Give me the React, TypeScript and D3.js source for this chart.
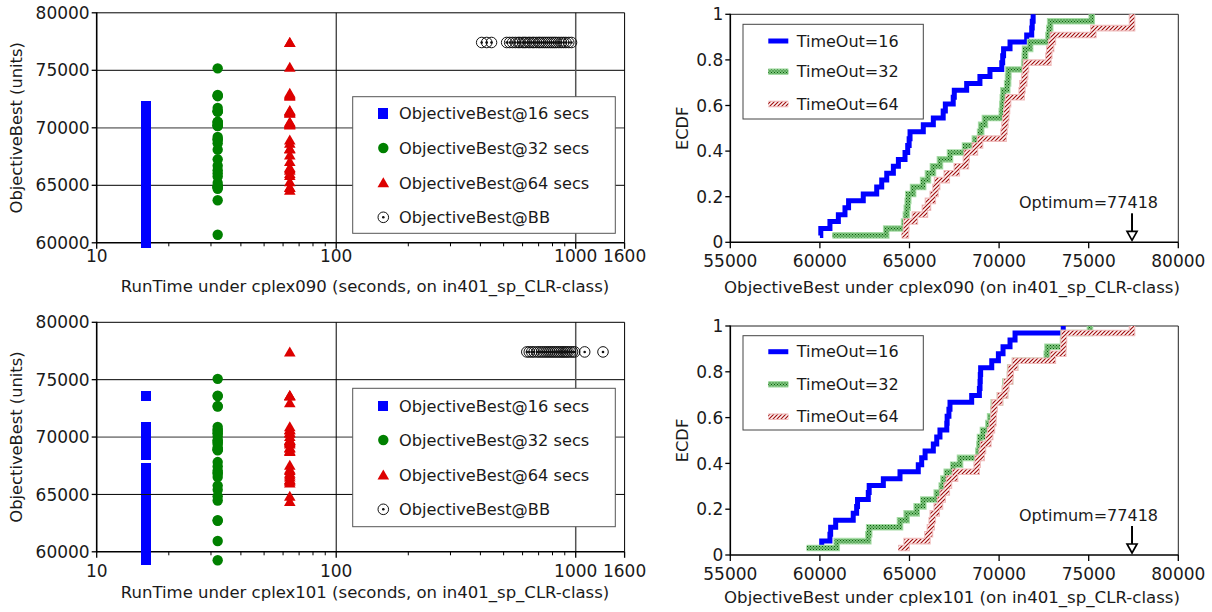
import React from 'react';
import * as d3 from 'd3';

const FONT = '"DejaVu Sans", Verdana, sans-serif';
const TXT = '#1a1a1a';

// ---------- data ----------
const timeouts = [16, 32, 64];
const scatterLegend = ['ObjectiveBest@16 secs', 'ObjectiveBest@32 secs', 'ObjectiveBest@64 secs', 'ObjectiveBest@BB'];
const ecdfLegend = ['TimeOut=16', 'TimeOut=32', 'TimeOut=64'];
const optimum = 77418;

const cplex090_16 = [60000, 60050, 60560, 61030, 61400, 61600, 62420, 63170, 63450, 63730, 64100, 64380, 64750, 64900, 64980, 65030, 65770, 66330, 66880, 67000, 67440, 67500, 68190, 68930, 69490, 70150, 70200, 70250, 70610, 71540, 71820, 71850, 71900];
const cplex090_32 = [60700, 63700, 64700, 64800, 64850, 64900, 64930, 65200, 65760, 66030, 66310, 66700, 67260, 68100, 68650, 68940, 69000, 69210, 70150, 70180, 70210, 70240, 70450, 70500, 70520, 71400, 71430, 71450, 71730, 72750, 72800, 72850, 75170];
const cplex090_64 = [64560, 64800, 64820, 65300, 65860, 66030, 66300, 66450, 66540, 67080, 67640, 68150, 68190, 68650, 68935, 70250, 70300, 70350, 70400, 70440, 70500, 71260, 71300, 71400, 71450, 71500, 72750, 72800, 72900, 73000, 75260, 77418, 77418];
const cplex090_bbTime = [405, 425, 445, 515, 530, 545, 560, 575, 585, 600, 610, 620, 635, 645, 660, 670, 685, 700, 710, 725, 740, 755, 770, 785, 800, 815, 830, 850, 870, 890, 910, 935, 960];

const cplex101_16 = [59300, 60100, 60560, 60600, 60880, 61860, 62050, 62100, 62700, 62750, 63540, 64470, 65490, 65680, 65870, 66330, 66520, 66700, 67080, 67100, 67200, 67260, 68470, 68900, 68935, 68950, 68970, 69590, 69960, 70220, 70610, 70890, 73580];
const cplex101_32 = [59260, 60940, 62700, 62750, 64470, 64840, 65400, 65770, 66520, 66800, 66890, 67080, 67440, 67820, 68840, 68900, 68935, 69100, 69400, 69500, 69680, 69700, 70050, 70330, 70350, 70610, 70620, 70890, 72660, 72700, 73570, 73600, 75070];
const cplex101_64 = [64380, 64840, 66000, 66140, 66240, 66300, 66520, 66700, 66850, 67080, 67200, 67540, 68750, 68800, 69030, 69100, 69400, 69500, 69600, 69680, 69700, 69750, 70050, 70330, 70400, 70610, 70650, 70890, 73000, 73580, 73600, 73620, 77418];
const cplex101_bbTime = [625, 640, 655, 670, 690, 705, 720, 735, 750, 765, 780, 795, 810, 825, 840, 855, 870, 885, 900, 915, 930, 950, 970, 990, 1090, 1300];

const scatterYTicks = [60000, 65000, 70000, 75000, 80000];
const scatterXTicks = [10, 100, 1000, 1600];
const scatterMinor = [20, 30, 40, 50, 60, 70, 80, 90, 200, 300, 400, 500, 600, 700, 800, 900];
const ecdfXTicks = [55000, 60000, 65000, 70000, 75000, 80000];
const ecdfYTicks = [0, 0.2, 0.4, 0.6, 0.8, 1];

// ---------- helpers ----------
const SX0 = 96.7, SX1 = 624.6;
const EX0 = 730.3, EX1 = 1178.3;

function ecdfPoints(vals: number[]): [number, number][] {
  const s = [...vals].sort((a, b) => a - b);
  return s.map((v, i) => [v, (i + 1) / s.length] as [number, number]);
}

function Marker({ kind, cx, cy }: { kind: number; cx: number; cy: number }) {
  if (kind === 0) return <rect x={cx - 5} y={cy - 5.3} width={10} height={10.6} fill="#0000ff" shapeRendering="crispEdges" />;
  if (kind === 1) return <circle cx={cx} cy={cy} r={5.2} fill="#008000" />;
  if (kind === 2) return <path d={`M${cx},${cy - 5.5} L${cx + 5.8},${cy + 4.5} L${cx - 5.8},${cy + 4.5} Z`} fill="#dd0000" />;
  return (
    <g>
      <circle cx={cx} cy={cy} r={5.3} fill="none" stroke="#111" strokeWidth={1} />
      <circle cx={cx} cy={cy} r={1.3} fill="#111" />
    </g>
  );
}

type ScatterProps = {
  yBot: number; yTop: number; series: number[][]; bb: number[]; xTitle: string;
  tickBase: number; titleBase: number; legTop: number; legRows: number[]; legH: number;
};

function ScatterPanel(p: ScatterProps) {
  const x = d3.scaleLog().domain([10, 1600]).range([SX0, SX1]);
  const y = d3.scaleLinear().domain([60000, 80000]).range([p.yBot, p.yTop]);
  const midY = (p.yBot + p.yTop) / 2;
  return (
    <g>
      {scatterYTicks.filter(t => t > 60000 && t < 80000).map(t => (
        <line key={'gy' + t} x1={SX0} x2={SX1} y1={y(t)} y2={y(t)} stroke={t === 70000 ? '#8a8a8a' : '#000'} strokeWidth={t === 70000 ? 1.8 : 1} />
      ))}
      {[100, 1000].map(t => (
        <line key={'gx' + t} x1={x(t)} x2={x(t)} y1={p.yTop} y2={p.yBot} stroke={t === 1000 ? '#555' : '#000'} strokeWidth={t === 1000 ? 1.5 : 1} />
      ))}
      <line x1={SX0} x2={SX1} y1={p.yTop} y2={p.yTop} stroke="#000" strokeWidth={1} />
      <line x1={SX1} x2={SX1} y1={p.yTop} y2={p.yBot} stroke="#000" strokeWidth={1} />
      <line x1={SX0} x2={SX0} y1={p.yTop - 0.5} y2={p.yBot + 0.5} stroke="#000" strokeWidth={1.6} />
      <line x1={SX0} x2={SX1} y1={p.yBot} y2={p.yBot} stroke="#000" strokeWidth={1.6} />
      {scatterYTicks.map(t => (
        <g key={'yt' + t}>
          <line x1={SX0 - 5} x2={SX0} y1={y(t)} y2={y(t)} stroke="#000" strokeWidth={1.3} />
          <text x={SX0 - 7} y={y(t)} dy="0.36em" textAnchor="end" fontSize={17} fontFamily={FONT} fill={TXT}>{t}</text>
        </g>
      ))}
      {scatterXTicks.map(t => (
        <g key={'xt' + t}>
          <line x1={x(t)} x2={x(t)} y1={p.yBot} y2={p.yBot + 6} stroke="#000" strokeWidth={1.3} />
          <text x={x(t)} y={p.tickBase} textAnchor="middle" fontSize={17} fontFamily={FONT} fill={TXT}>{t}</text>
        </g>
      ))}
      {scatterMinor.map(t => (
        <line key={'mt' + t} x1={x(t)} x2={x(t)} y1={p.yBot} y2={p.yBot + 3.5} stroke="#000" strokeWidth={1} />
      ))}
      <text x={365} y={p.titleBase} textAnchor="middle" fontSize={16.5} fontFamily={FONT} fill={TXT}>{p.xTitle}</text>
      <text transform={`translate(22,${midY}) rotate(-90)`} textAnchor="middle" fontSize={16.3} fontFamily={FONT} fill={TXT}>ObjectiveBest (units)</text>
      {p.series.map((vals, k) => (
        <g key={'s' + k}>
          {vals.map((v, i) => <Marker key={i} kind={k} cx={x(timeouts[k])} cy={y(v)} />)}
        </g>
      ))}
      {p.bb.map((t, i) => <Marker key={'bb' + i} kind={3} cx={x(t)} cy={y(optimum)} />)}
      <rect x={352.7} y={p.legTop} width={262.6} height={p.legH} fill="#fff" stroke="#555" strokeWidth={1} />
      {scatterLegend.map((name, k) => (
        <g key={'lg' + k}>
          <Marker kind={k} cx={383.3} cy={p.legTop + p.legRows[k]} />
          <text x={399} y={p.legTop + p.legRows[k]} dy="0.36em" fontSize={16.2} fontFamily={FONT} fill={TXT}>{name}</text>
        </g>
      ))}
    </g>
  );
}

const styles = [
  { under: null as string | null, stroke: '#0000ff', w: 5 },
  { under: '#a6dca6', stroke: 'url(#gpat)', w: 5 },
  { under: '#f0bcbc', stroke: 'url(#rpat)', w: 5 },
];

function StyledPath({ d, k }: { d: string; k: number }) {
  const s = styles[k];
  return (
    <g>
      {s.under && <path d={d} fill="none" stroke={s.under} strokeWidth={s.w + 1.6} strokeLinejoin="miter" strokeLinecap="butt" />}
      <path d={d} fill="none" stroke={s.stroke} strokeWidth={s.under ? s.w - 0.6 : s.w} strokeLinejoin="miter" strokeLinecap="butt" />
    </g>
  );
}

type EcdfProps = {
  yBot: number; yTop: number; series: number[][]; xTitle: string;
  tickBase: number; titleBase: number; legTop: number; legRows: number[]; legH: number;
};

function EcdfPanel(p: EcdfProps) {
  const x = d3.scaleLinear().domain([55000, 80000]).range([EX0, EX1]);
  const y = d3.scaleLinear().domain([0, 1]).range([p.yBot, p.yTop]);
  const line = d3.line<[number, number]>().x(d => x(d[0])).y(d => y(d[1])).curve(d3.curveStepAfter);
  const midY = (p.yBot + p.yTop) / 2;
  const ox = x(optimum);
  return (
    <g>
      <line x1={EX0} x2={EX1} y1={p.yTop} y2={p.yTop} stroke="#222" strokeWidth={1} />
      <line x1={EX1} x2={EX1} y1={p.yTop} y2={p.yBot} stroke="#222" strokeWidth={1} />
      <line x1={EX0} x2={EX0} y1={p.yTop - 0.5} y2={p.yBot + 0.5} stroke="#000" strokeWidth={1.6} />
      <line x1={EX0} x2={EX1} y1={p.yBot} y2={p.yBot} stroke="#000" strokeWidth={1.6} />
      {ecdfYTicks.map(t => (
        <g key={'ey' + t}>
          <line x1={EX0 - 5} x2={EX0} y1={y(t)} y2={y(t)} stroke="#000" strokeWidth={1.3} />
          <text x={EX0 - 7} y={y(t)} dy="0.36em" textAnchor="end" fontSize={17} fontFamily={FONT} fill={TXT}>{t}</text>
        </g>
      ))}
      {ecdfXTicks.map(t => (
        <g key={'ex' + t}>
          <line x1={x(t)} x2={x(t)} y1={p.yBot} y2={p.yBot + 6} stroke="#000" strokeWidth={1.3} />
          <text x={x(t)} y={p.tickBase} textAnchor="middle" fontSize={17} fontFamily={FONT} fill={TXT}>{t}</text>
        </g>
      ))}
      <text x={952} y={p.titleBase} textAnchor="middle" fontSize={16.6} fontFamily={FONT} fill={TXT}>{p.xTitle}</text>
      <text transform={`translate(688,${midY}) rotate(-90)`} textAnchor="middle" fontSize={16.3} fontFamily={FONT} fill={TXT}>ECDF</text>
      {p.series.map((vals, k) => (
        <StyledPath key={'ec' + k} k={k} d={line(ecdfPoints(vals)) || ''} />
      ))}
      <text x={ox + 26} y={p.yBot - 34} textAnchor="end" fontSize={16} fontFamily={FONT} fill={TXT}>Optimum={optimum}</text>
      <line x1={ox} x2={ox} y1={p.yBot - 29} y2={p.yBot - 10} stroke="#000" strokeWidth={2} />
      <path d={`M${ox - 5},${p.yBot - 11} L${ox + 5},${p.yBot - 11} L${ox},${p.yBot - 2} Z`} fill="#fff" stroke="#000" strokeWidth={1.7} strokeLinejoin="miter" />
      <rect x={743} y={p.legTop} width={180.3} height={p.legH} fill="#fff" stroke="#444" strokeWidth={1} />
      {ecdfLegend.map((name, k) => (
        <g key={'el' + k}>
          <StyledPath k={k} d={`M768.3,${p.legTop + p.legRows[k]} L788.3,${p.legTop + p.legRows[k]}`} />
          <text x={796.7} y={p.legTop + p.legRows[k]} dy="0.36em" fontSize={16} fontFamily={FONT} fill={TXT}>{name}</text>
        </g>
      ))}
    </g>
  );
}

export default function App() {
  return (
    <svg width={1212} height={612} style={{ position: 'absolute', left: 0, top: 0, background: '#fff' }}>
      <defs>
        <pattern id="gpat" width={3} height={3} patternUnits="userSpaceOnUse">
          <rect width={3} height={3} fill="#7cc47c" />
          <rect x={0} y={0} width={1} height={1} fill="#0b5e0b" />
          <rect x={1.5} y={1.5} width={1} height={1} fill="#0b5e0b" />
        </pattern>
        <pattern id="rpat" width={4} height={4} patternUnits="userSpaceOnUse">
          <rect width={4} height={4} fill="#fff5f5" />
          <path d="M-1,1 L1,-1 M0,4 L4,0 M3,5 L5,3" stroke="#a01010" strokeWidth={1.2} />
        </pattern>
      </defs>
      <rect width={1212} height={612} fill="#fff" />
      <ScatterPanel yBot={242.8} yTop={12.8} series={[cplex090_16, cplex090_32, cplex090_64]} bb={cplex090_bbTime}
        xTitle="RunTime under cplex090 (seconds, on in401_sp_CLR-class)" tickBase={261.5} titleBase={292}
        legTop={96.7} legRows={[16.6, 51.3, 86, 120.6]} legH={136.6} />
      <ScatterPanel yBot={551.8} yTop={322.3} series={[cplex101_16, cplex101_32, cplex101_64]} bb={cplex101_bbTime}
        xTitle="RunTime under cplex101 (seconds, on in401_sp_CLR-class)" tickBase={576.5} titleBase={598}
        legTop={388.3} legRows={[17.7, 51.7, 86.7, 121]} legH={138.4} />
      <EcdfPanel yBot={242.3} yTop={14.3} series={[cplex090_16, cplex090_32, cplex090_64]}
        xTitle="ObjectiveBest under cplex090 (on in401_sp_CLR-class)" tickBase={266.5} titleBase={293}
        legTop={24.3} legRows={[16.7, 47.4, 79.7]} legH={94.7} />
      <EcdfPanel yBot={555} yTop={326} series={[cplex101_16, cplex101_32, cplex101_64]}
        xTitle="ObjectiveBest under cplex101 (on in401_sp_CLR-class)" tickBase={580} titleBase={603}
        legTop={335.7} legRows={[16, 48.6, 81]} legH={94.3} />
    </svg>
  );
}
